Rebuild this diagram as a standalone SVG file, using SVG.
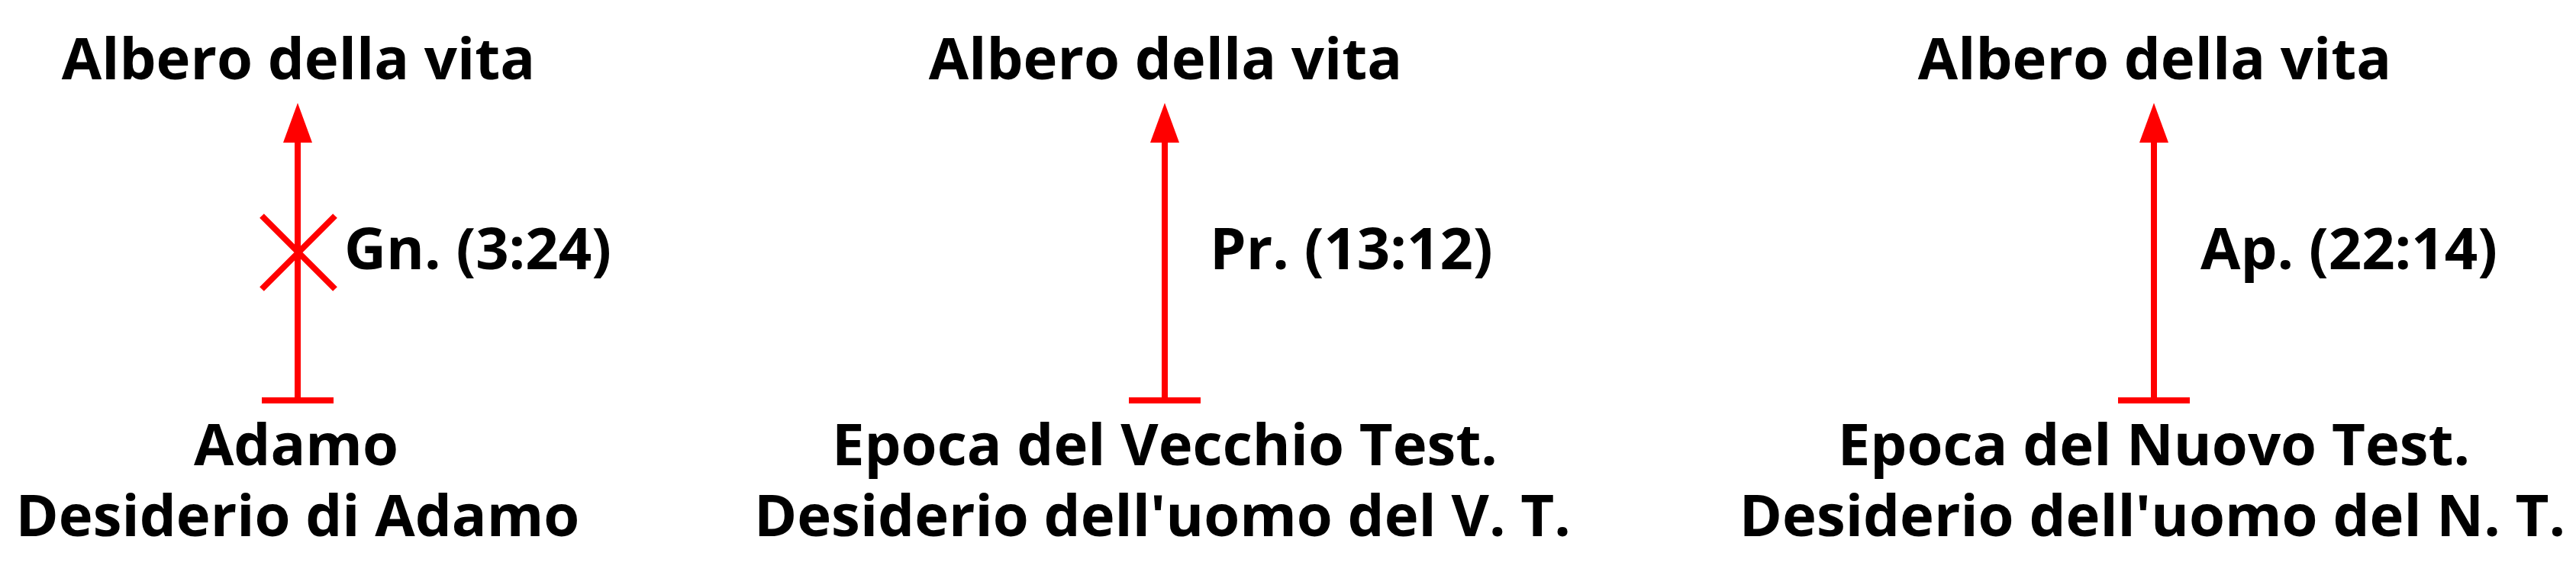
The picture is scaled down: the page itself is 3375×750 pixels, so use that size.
<svg xmlns="http://www.w3.org/2000/svg" width="3375" height="750" viewBox="0 0 3375 750">
<style>
text{font-family:"Open Sans","Noto Sans","DejaVu Sans",sans-serif;font-weight:bold;font-size:76px;fill:#000}
.c{text-anchor:middle}
.conn{stroke:#ff0000;stroke-width:8;fill:none}
</style>
<defs>
<marker id="arrow" markerUnits="userSpaceOnUse" markerWidth="52" markerHeight="38" viewBox="0 0 52 38" refX="0" refY="19" orient="auto">
<path d="M0,0 L52,19 L0,38 z" fill="#ff0000"/>
</marker>
<marker id="tee" markerUnits="userSpaceOnUse" markerWidth="8" markerHeight="94" viewBox="-4 -47 8 94" refX="0" refY="0" orient="auto">
<rect x="-4" y="-47" width="8" height="94" fill="#ff0000"/>
</marker>
</defs>
<rect width="3375" height="750" fill="#fff"/>
<g id="tree1"><text class="c" x="391" y="104">Albero della vita</text></g>
<g id="tree2"><text class="c" x="1527" y="104">Albero della vita</text></g>
<g id="tree3"><text class="c" x="2823" y="104">Albero della vita</text></g>
<g id="adam"><text class="c" x="388" y="610">Adamo</text><text class="c" x="390" y="703">Desiderio di Adamo</text></g>
<g id="ot"><text class="c" x="1526" y="610">Epoca del Vecchio Test.</text><text class="c" x="1523" y="703">Desiderio dell'uomo del V. T.</text></g>
<g id="nt"><text class="c" x="2822" y="610">Epoca del Nuovo Test.</text><text class="c" x="2820" y="703">Desiderio dell'uomo del N. T.</text></g>
<g id="connectors">
<path class="conn" d="M390,525 L390,187" marker-start="url(#tee)" marker-end="url(#arrow)"/>
<path class="conn" d="M343,283 L439,379 M439,283 L343,379"/>
<text x="451" y="353">Gn. (3:24)</text>
<path class="conn" d="M1526,525 L1526,187" marker-start="url(#tee)" marker-end="url(#arrow)"/>
<text x="1585" y="353">Pr. (13:12)</text>
<path class="conn" d="M2822,525 L2822,187" marker-start="url(#tee)" marker-end="url(#arrow)"/>
<text x="2883" y="353">Ap. (22:14)</text>
</g>
</svg>
